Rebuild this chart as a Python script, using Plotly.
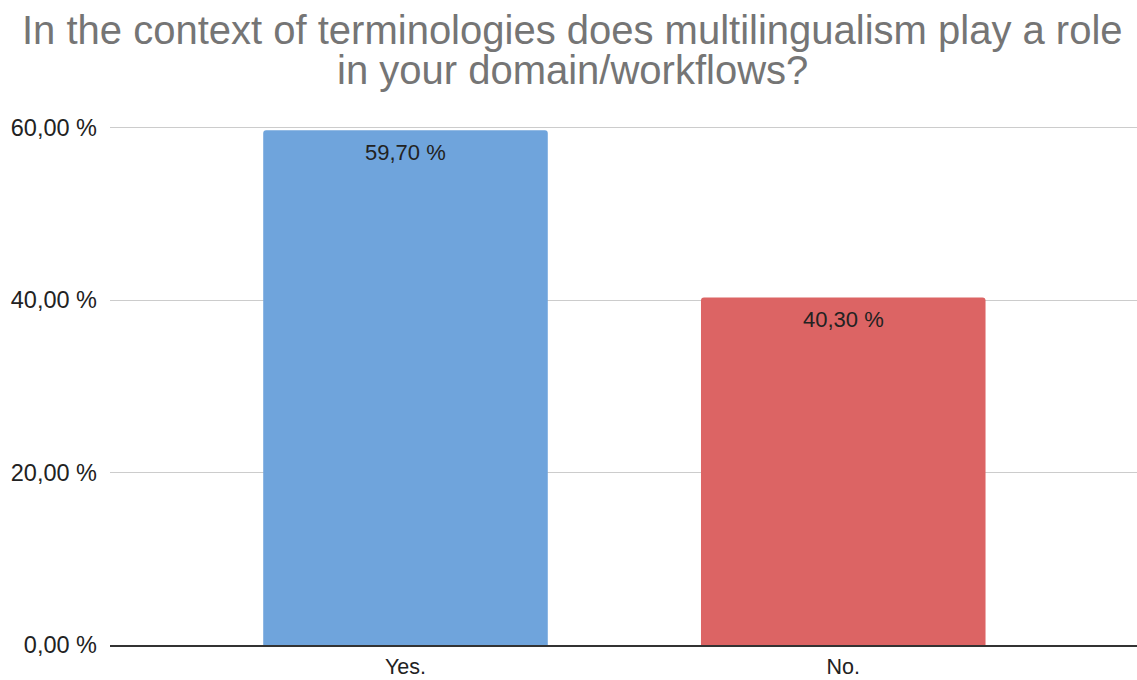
import plotly.graph_objects as go

categories = ["Yes.", "No."]
values = [59.70, 40.30]
bar_colors = ["#6fa4dc", "#dc6464"]
value_labels = ["59,70 %", "40,30 %"]
y_tick_vals = [0, 20, 40, 60]
y_tick_text = ["0,00 %", "20,00 %", "40,00 %", "60,00 %"]
title_lines = ["In the context of terminologies does multilingualism play a role",
               "in your domain/workflows?"]

FONT = "Liberation Sans, Arial, sans-serif"

fig = go.Figure()
fig.add_trace(go.Bar(
    x=categories, y=values,
    marker=dict(color=bar_colors, line=dict(width=0)),
    width=0.65,
    hoverinfo="skip",
))

annotations = []
for c, v, lab in zip(categories, values, value_labels):
    annotations.append(dict(
        x=c, y=v, xref="x", yref="y", text=lab, showarrow=False,
        yanchor="middle", xanchor="center", yshift=-22,
        font=dict(family=FONT, size=22, color="#222222"),
    ))

title_centers = [1.128, 1.0547]
for line, ty in zip(title_lines, title_centers):
    annotations.append(dict(
        x=0.4508, y=ty, xref="paper", yref="paper", text=line, showarrow=False,
        xanchor="center", yanchor="middle",
        font=dict(family=FONT, size=40, color="#757575"),
    ))

fig.update_layout(
    width=1137, height=680,
    margin=dict(l=110, r=0, t=100, b=35),
    paper_bgcolor="white", plot_bgcolor="white",
    showlegend=False,
    barcornerradius=3,
    annotations=annotations,
    font=dict(family=FONT, size=22, color="#222222"),
    xaxis=dict(
        range=[-0.675, 1.671],
        automargin=False,
        showgrid=False,
        showline=True, linecolor="#333333", linewidth=1.5,
        ticks="", ticklabelstandoff=1,
        tickfont=dict(family=FONT, size=21.5, color="#222222"),
        fixedrange=True,
    ),
    yaxis=dict(
        range=[0, 63.21],
        automargin=False,
        tickvals=y_tick_vals, ticktext=y_tick_text,
        showgrid=True, gridcolor="#cccccc", gridwidth=1,
        zeroline=False, showline=False,
        ticks="", ticklabelstandoff=12,
        tickfont=dict(family=FONT, size=23.5, color="#222222"),
        fixedrange=True,
    ),
)

fig.write_html(
    "out.html",
    config={"displayModeBar": False},
    post_script="document.body.style.margin='0';document.body.style.overflow='hidden';",
)
